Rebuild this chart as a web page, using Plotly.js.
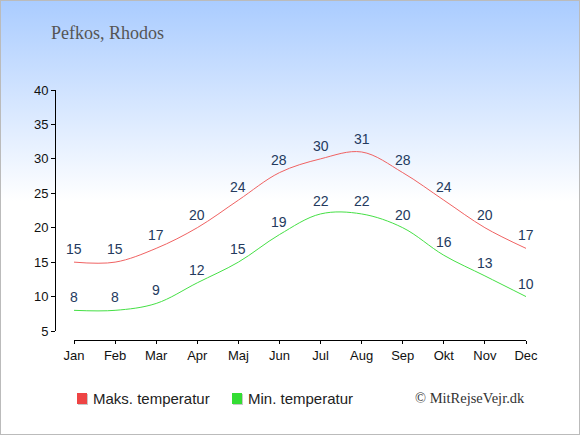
<!DOCTYPE html>
<html>
<head>
<meta charset="utf-8">
<script src="https://cdn.plot.ly/plotly-3.0.1.min.js"></script>
<style>
html,body{margin:0;padding:0;}
#wrap{width:578px;height:433px;border:1px solid #bbbbbb;background:linear-gradient(to bottom,#aaccff 0px,#ffffff 200px,#ffffff 100%);overflow:hidden;}
#chart{width:578px;height:433px;}
</style>
</head>
<body>
<div id="wrap"><div id="chart"></div></div>
<script>
var months = ["Jan","Feb","Mar","Apr","Maj","Jun","Jul","Aug","Sep","Okt","Nov","Dec"];
var maxTemp = [15,15,17,20,24,28,30,31,28,24,20,17];
var minTemp = [8,8,9,12,15,19,22,22,20,16,13,10];
var yTicks = [5,10,15,20,25,30,35,40];
var titleText = "Pefkos, Rhodos";
var seriesNames = ["Maks. temperatur", "Min. temperatur"];
var credit = "© MitRejseVejr.dk";

var idx = months.map(function(m,i){return i;});
var lineColors = ["#f06262", "#45e045"];
var boxColors = ["#ee4444", "#33dd33"];
var labelColor = "#243a5e";

var traces = [
  {x: idx, y: maxTemp, name: seriesNames[0], mode: "lines", line: {color: lineColors[0], width: 1, shape: "spline", smoothing: 1}, showlegend: false, hoverinfo: "skip"},
  {x: idx, y: minTemp, name: seriesNames[1], mode: "lines", line: {color: lineColors[1], width: 1, shape: "spline", smoothing: 1}, showlegend: false, hoverinfo: "skip"}
];

var ann = [];
function addLabels(arr){
  arr.forEach(function(v,i){
    ann.push({x: i, y: v, xref: "x", yref: "y", text: String(v), showarrow: false, yshift: 13,
      font: {family: "Liberation Sans, Arial, sans-serif", size: 14, color: labelColor}});
  });
}
addLabels(maxTemp);
addLabels(minTemp);
ann.push({xref: "paper", yref: "paper", x: 1.003, y: -0.232, xanchor: "right", yanchor: "middle",
  text: credit, showarrow: false, font: {family: "Liberation Serif, Times New Roman, serif", size: 14.5, color: "#333333"}});

// manual legend (paper coordinates)
var legX = [0.0467, 0.3758];
var legTextX = [0.0765, 0.4056];
var boxW = 0.0212;
var shapes = [];
seriesNames.forEach(function(n, k){
  shapes.push({type: "rect", xref: "paper", yref: "paper", x0: legX[k] + 0.0021, x1: legX[k] + boxW + 0.0021, y0: -0.260, y1: -0.216,
    line: {width: 0}, fillcolor: "#c8c8c8"});
  shapes.push({type: "rect", xref: "paper", yref: "paper", x0: legX[k], x1: legX[k] + boxW, y0: -0.256, y1: -0.212,
    line: {width: 0}, fillcolor: boxColors[k]});
  ann.push({xref: "paper", yref: "paper", x: legTextX[k], y: -0.232, xanchor: "left", yanchor: "middle", showarrow: false,
    text: n, font: {family: "Liberation Sans, Arial, sans-serif", size: 15, color: "#222222"}});
});

var layout = {
  width: 578, height: 433,
  margin: {l: 54, r: 53, t: 89, b: 94, pad: 0},
  paper_bgcolor: "rgba(0,0,0,0)",
  plot_bgcolor: "rgba(0,0,0,0)",
  font: {family: "Liberation Sans, Arial, sans-serif", size: 13, color: "#111111"},
  title: {text: titleText, xref: "container", yref: "container", x: 50/578, xanchor: "left", y: 1-32/433, yanchor: "middle",
    font: {family: "Liberation Serif, Times New Roman, serif", size: 18, color: "#555555"}},
  xaxis: {domain: [19/471, 1], range: [0, 11], anchor: "free", position: 0, tickvals: idx, ticktext: months,
    showline: true, linecolor: "#000000", linewidth: 1, ticks: "outside", ticklen: 3, tickcolor: "#000000",
    showgrid: false, zeroline: false, fixedrange: true, tickfont: {size: 13, color: "#111111"}},
  yaxis: {domain: [9/250, 1], range: [5, 40], anchor: "free", position: 0, tickvals: yTicks,
    showline: true, linecolor: "#000000", linewidth: 1, ticks: "outside", ticklen: 4, tickcolor: "#000000",
    showgrid: false, zeroline: false, fixedrange: true, tickfont: {size: 13, color: "#111111"}},
  annotations: ann,
  shapes: shapes,
  showlegend: false
};

Plotly.newPlot("chart", traces, layout, {displayModeBar: false, staticPlot: true});
</script>
</body>
</html>
